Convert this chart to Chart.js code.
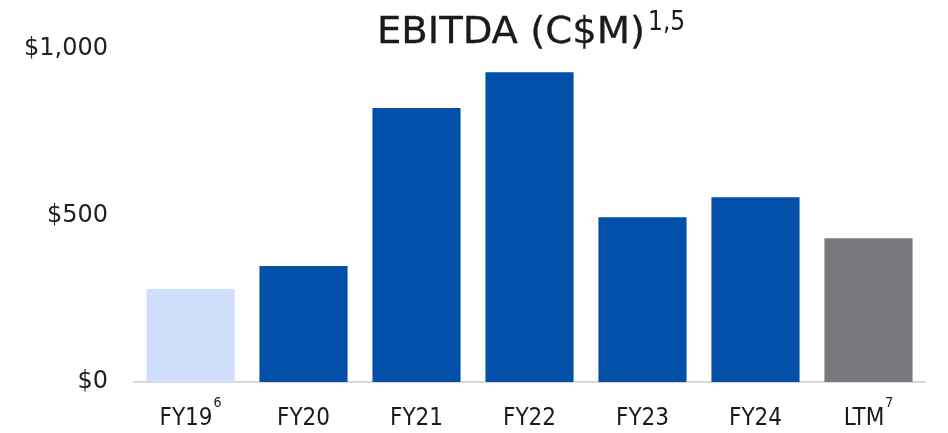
<!DOCTYPE html>
<html>
<head>
<meta charset="utf-8">
<script src="https://cdn.jsdelivr.net/npm/chart.js@4.4.1/dist/chart.umd.min.js"></script>
<style>
  html, body { margin: 0; padding: 0; background: #ffffff; }
  #wrap { width: 948px; height: 433px; position: relative; }
</style>
</head>
<body>
<div id="wrap"><canvas id="c" width="948" height="433"></canvas></div>
<script>
const categories = ["FY19", "FY20", "FY21", "FY22", "FY23", "FY24", "LTM"];
const categoryNotes = ["6", "", "", "", "", "", "7"];
const ebitdaValues = [279, 348, 823, 930, 495, 555, 432];
const barColors = ["#CFDFFB", "#0350A8", "#0350A8", "#0350A8", "#0350A8", "#0350A8", "#79787D"];
const yTickValues = [0, 500, 1000];
const titleText = "EBITDA (C$M)";
const titleNote = "1,5";

const FONT = "'DejaVu Sans Condensed', 'DejaVu Sans', sans-serif";
const FONT_WIDE = "'DejaVu Sans', sans-serif";
const TEXT = "#1b1b1b";

const labelsPlugin = {
  id: "customLabels",
  afterDraw(chart) {
    const ctx = chart.ctx;
    const xs = chart.scales.x;
    const area = chart.chartArea;
    ctx.save();
    ctx.fillStyle = TEXT;
    ctx.textBaseline = "alphabetic";
    ctx.textAlign = "left";
    categories.forEach((cat, i) => {
      const cx = xs.getPixelForTick(i);
      ctx.font = "24px " + FONT;
      const w = ctx.measureText(cat).width;
      ctx.font = "14px " + FONT;
      const nw = categoryNotes[i] ? ctx.measureText(categoryNotes[i]).width + 1 : 0;
      const x0 = cx - (w + nw) / 2;
      ctx.font = "24px " + FONT;
      ctx.fillText(cat, x0, area.bottom + 43);
      if (categoryNotes[i]) {
        ctx.font = "14px " + FONT;
        ctx.fillText(categoryNotes[i], x0 + w + 1, area.bottom + 25);
      }
    });
    // title, stretched horizontally to the reference width
    ctx.font = "38px " + FONT;
    const tw = ctx.measureText(titleText).width;
    const targetW = 268;
    const sx = targetW / tw;
    const tx = 377;
    ctx.save();
    ctx.translate(tx, 43);
    ctx.scale(sx, 1);
    ctx.fillText(titleText, 0, 0);
    ctx.lineWidth = 0.3;
    ctx.strokeStyle = TEXT;
    ctx.strokeText(titleText, 0, 0);
    ctx.restore();
    ctx.font = "26px " + FONT;
    ctx.fillText(titleNote, tx + targetW + 3, 30);
    ctx.restore();
  }
};

new Chart(document.getElementById("c"), {
  type: "bar",
  data: {
    labels: categories,
    datasets: [{
      data: ebitdaValues,
      backgroundColor: barColors,
      borderWidth: 0,
      categoryPercentage: 1.0,
      barPercentage: 0.78
    }]
  },
  options: {
    responsive: false,
    animation: false,
    devicePixelRatio: 1,
    layout: { padding: { top: 49, right: 23, left: 0, bottom: 0 } },
    plugins: {
      legend: { display: false },
      tooltip: { enabled: false },
      title: { display: false }
    },
    scales: {
      x: {
        grid: { display: false, drawTicks: false },
        border: { display: true, color: "#D9D9D9", width: 2 },
        ticks: { display: false },
        afterFit(scale) { scale.height = 51; }
      },
      y: {
        min: 0,
        max: 1000,
        afterBuildTicks(scale) { scale.ticks = yTickValues.map(v => ({ value: v })); },
        grid: { display: false, drawTicks: false },
        border: { display: false },
        ticks: {
          color: "#222222",
          font: { family: FONT_WIDE, size: 24 },
          padding: 26,
          callback: v => "$" + v.toLocaleString("en-US")
        },
        afterFit(scale) { scale.width = 134; }
      }
    }
  },
  plugins: [labelsPlugin]
});
</script>
</body>
</html>
